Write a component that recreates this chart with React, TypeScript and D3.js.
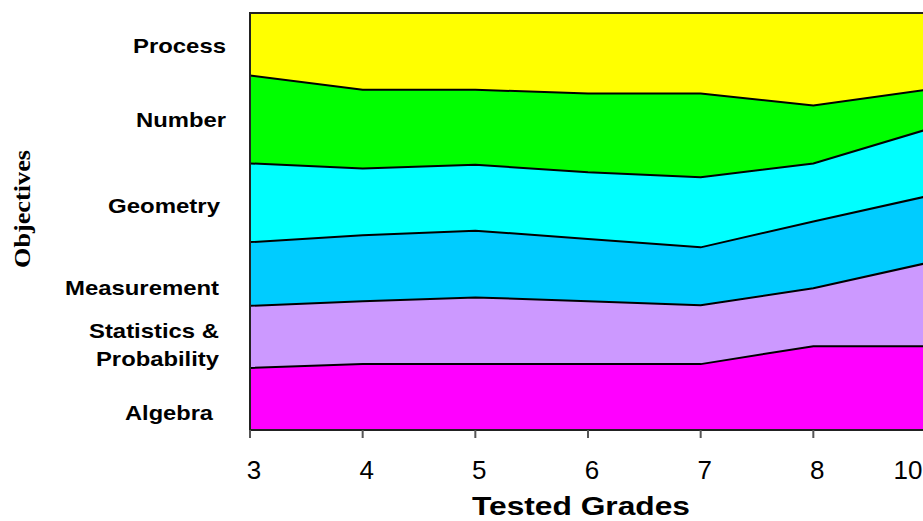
import React from "react";
import * as d3 from "d3";

const grades = ["3", "4", "5", "6", "7", "8", "10"];
const seriesNames = ["Algebra", "Statistics", "Measurement", "Geometry", "Number", "Process"];
const algebra = [14.9, 15.8, 15.8, 15.8, 15.8, 20.1, 20.1];
const statistics = [14.9, 15.1, 16.0, 15.1, 14.1, 13.9, 19.9];
const measurement = [15.3, 15.8, 16.0, 14.9, 13.9, 16.0, 16.0];
const geometry = [18.9, 16.0, 15.8, 16.0, 16.8, 13.9, 16.0];
const numberObj = [21.1, 18.9, 18.0, 18.9, 20.1, 13.9, 9.6];
const processObj = [15.0, 18.4, 18.4, 19.3, 19.3, 22.2, 18.4];
const objectiveLabels = ["Process", "Number", "Geometry", "Measurement", "Statistics &", "Probability", "Algebra"];

const colors = ["#FF00FF", "#CC99FF", "#00CCFF", "#00FFFF", "#00FF00", "#FFFF00"];

export default function App() {
  const W = 923, H = 521;
  const left = 250, right = 926, top = 13, bottom = 430;
  const seriesValues = [algebra, statistics, measurement, geometry, numberObj, processObj];
  const rows = grades.map((g, i) => {
    const r: any = { grade: g };
    seriesNames.forEach((n, k) => (r[n] = seriesValues[k][i]));
    return r;
  });
  const stacked = d3.stack<any>().keys(seriesNames).offset(d3.stackOffsetExpand)(rows);
  const x = d3.scalePoint<string>().domain(grades).range([left, right]);
  const y = d3.scaleLinear().domain([0, 1]).range([bottom, top]);
  const area = d3
    .area<any>()
    .x((d) => x(d.data.grade) as number)
    .y0((d) => y(d[0]))
    .y1((d) => y(d[1]));
  const line = d3
    .line<any>()
    .x((d) => x(d.data.grade) as number)
    .y((d) => y(d[1]));

  const font = "'Liberation Sans', Arial, Helvetica, sans-serif";
  // label layout: [right x, baseline y, width]
  const labelLayout: [number, number, number][] = [
    [226, 53, 93],
    [226, 127, 90],
    [220, 213, 112],
    [219, 295, 154],
    [219, 338, 130],
    [219, 366, 123],
    [213, 420, 88],
  ];

  return (
    <svg
      width={W}
      height={H}
      style={{ position: "absolute", left: 0, top: 0, background: "#fff" }}
    >
      {stacked.map((s, k) => (
        <path key={"a" + k} d={area(s) || ""} fill={colors[k]} stroke="none" />
      ))}
      {stacked.slice(0, stacked.length - 1).map((s, k) => (
        <path key={"l" + k} d={line(s) || ""} fill="none" stroke="#000" strokeWidth={2} />
      ))}
      <rect x={left} y={top} width={right - left} height={bottom - top} fill="none" stroke="#222" strokeWidth={2} />
      {grades.map((g) => (
        <g key={"t" + g}>
          <line x1={x(g)} x2={x(g)} y1={bottom} y2={bottom + 8} stroke="#555" strokeWidth={2} />
          <text
            x={Math.min((x(g) as number) + 4, W - 15)}
            y={479}
            textAnchor="middle"
            fontFamily={font}
            fontSize={26}
            fill="#000"
          >
            {g}
          </text>
        </g>
      ))}
      <text
        x={581}
        y={515}
        textAnchor="middle"
        fontFamily={font}
        fontWeight="bold"
        fontSize={25}
        textLength={218}
        lengthAdjust="spacingAndGlyphs"
      >
        Tested Grades
      </text>
      {objectiveLabels.map((lab, i) => {
        const [rx, by, w] = labelLayout[i];
        return (
          <text
            key={lab}
            x={rx - w}
            y={by}
            fontFamily={font}
            fontWeight="bold"
            fontSize={21}
            textLength={w}
            lengthAdjust="spacingAndGlyphs"
          >
            {lab}
          </text>
        );
      })}
      <text
        transform="translate(30,209) rotate(-90)"
        textAnchor="middle"
        fontFamily="'Liberation Serif', 'Times New Roman', serif"
        fontWeight="bold"
        fontSize={23}
        textLength={118}
        lengthAdjust="spacingAndGlyphs"
      >
        Objectives
      </text>
    </svg>
  );
}
